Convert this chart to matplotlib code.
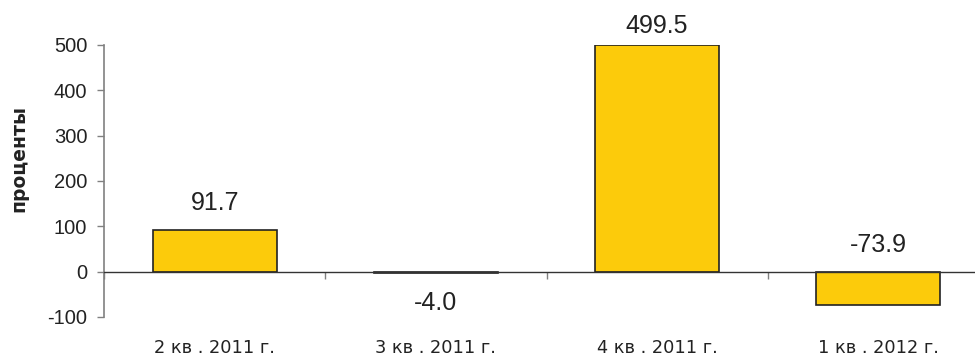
import matplotlib
matplotlib.use("Agg")
import matplotlib.pyplot as plt
import matplotlib.transforms as mtransforms

plt.rcParams['font.family'] = ['Liberation Sans', 'DejaVu Sans']

categories = ["2 кв . 2011 г.", "3 кв . 2011 г.", "4 кв . 2011 г.", "1 кв . 2012 г."]
values = [91.7, -4.0, 499.5, -73.9]
value_labels = ["91.7", "-4.0", "499.5", "-73.9"]
y_ticks = [-100, 0, 100, 200, 300, 400, 500]
y_label = "проценты"

W, H = 975, 357
fig = plt.figure(figsize=(W / 100, H / 100), dpi=100)
left_px, right_px, top_px, bottom_px = 104, 989, 45, 317
ax = fig.add_axes([left_px / W, 1 - bottom_px / H,
                   (right_px - left_px) / W, (bottom_px - top_px) / H])

x = list(range(len(categories)))
ax.bar(x, values, width=0.56, color="#FCCB0B", edgecolor="#222222",
       linewidth=1.2, zorder=3)

ax.set_xlim(-0.5, len(categories) - 0.5)
ax.set_ylim(-100, 500)
ax.set_yticks(y_ticks)
ax.set_yticklabels([str(t) for t in y_ticks], fontsize=14.5, color="#222222")

for s in ("top", "right"):
    ax.spines[s].set_visible(False)
ax.spines["left"].set_color("#808080")
ax.spines["left"].set_linewidth(1.2)
ax.spines["bottom"].set_position(("data", 0))
ax.spines["bottom"].set_color("#333333")
ax.spines["bottom"].set_linewidth(1.0)
ax.spines["bottom"].set_zorder(4)

ax.tick_params(axis="y", direction="out", length=5, width=1, color="#808080", pad=7)
ax.set_xticks([i + 0.5 for i in x[:-1]] + [-0.5])
ax.set_xticklabels([])
ax.tick_params(axis="x", direction="out", length=5, width=1, color="#808080")

# category names along the bottom of the plot area
trans = mtransforms.blended_transform_factory(ax.transData, ax.transAxes)
for i, c in zip(x, categories):
    ax.text(i, -0.132, c, transform=trans, ha="center", va="baseline",
            fontsize=12.8, family="DejaVu Sans", color="#222222")

# value labels: above the bar (or above the zero line for large negative
# bars), below the bar for small negative ones; kept inside the figure
fig.canvas.draw()
for i, v, lab in zip(x, values, value_labels):
    if -10 < v < 0:
        xd, yd = ax.transData.transform((i, v))
        yd -= 30
    else:
        xd, yd = ax.transData.transform((i, max(v, 0)))
        yd = min(yd + 27, H - 26)
    fig.text(xd / W, yd / H, lab, ha="center", va="center",
             fontsize=18, color="#222222")

fig.text(19 / W, 1 - 159 / H, y_label, rotation=90, ha="center", va="center",
         fontsize=13.5, fontweight="bold", family="DejaVu Sans", color="#222222")

fig.savefig("out.png", dpi=100)
